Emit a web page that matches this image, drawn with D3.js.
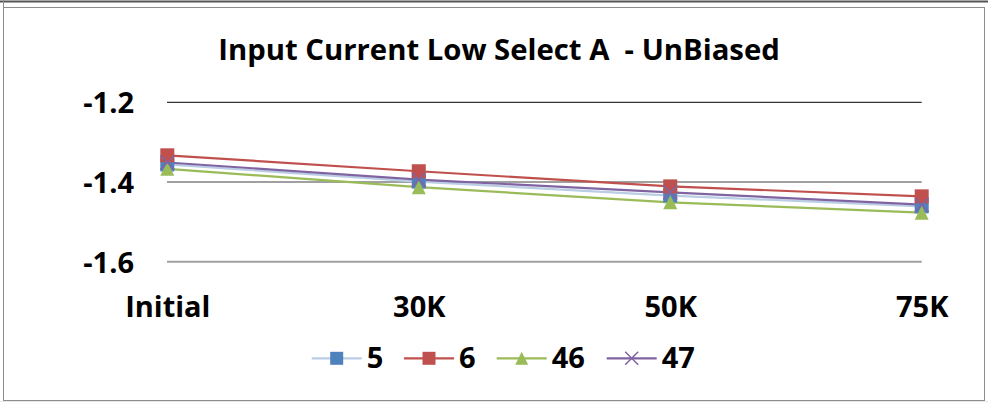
<!DOCTYPE html>
<html><head><meta charset="utf-8">
<script src="https://cdn.jsdelivr.net/npm/d3@7"></script>
<style>html,body{margin:0;padding:0;background:#fff;}svg{display:block;}</style>
</head><body>
<svg id="chart" width="988" height="403"></svg>
<script>
const title = "Input Current Low Select A  - UnBiased";
const categories = ["Initial", "30K", "50K", "75K"];
const yTicks = [-1.2, -1.4, -1.6];
const yTickLabels = ["-1.2", "-1.4", "-1.6"];
const seriesNames = ["5", "6", "46", "47"];
const s5 = [-1.356, -1.399, -1.434, -1.461];
const s6 = [-1.333, -1.373, -1.411, -1.436];
const s46 = [-1.367, -1.413, -1.451, -1.477];
const s47 = [-1.351, -1.394, -1.426, -1.457];
const lineColors = ["#b9cde5", "#c0504d", "#9bbb59", "#8064a2"];
const markerColors = ["#4f81bd", "#c0504d", "#9bbb59", "#8064a2"];
const markerTypes = ["square", "square", "triangle", "x"];
const values = [s5, s6, s46, s47];

const svg = d3.select("#chart");
const font = "'Open Sans', sans-serif";

// frame
svg.append("line").attr("x1",0).attr("x2",988).attr("y1",1.5).attr("y2",1.5).attr("stroke","#555").attr("stroke-width",2);
svg.append("rect").attr("x",3.5).attr("y",7.5).attr("width",981).attr("height",393).attr("fill","#fff").attr("stroke","#8c8c8c").attr("stroke-width",1);
svg.append("line").attr("x1",3.5).attr("x2",3.5).attr("y1",0).attr("y2",8).attr("stroke","#8c8c8c");
svg.append("line").attr("x1",0).attr("x2",988).attr("y1",401.5).attr("y2",401.5).attr("stroke","#e8e8e8");

const x = d3.scalePoint().domain(categories).range([167.3, 921.7]);
const y = d3.scaleLinear().domain([-1.6, -1.2]).range([261.7, 102.3]);

// title
svg.append("text").attr("x",499).attr("y",60).attr("text-anchor","middle")
  .style("white-space","pre").attr("xml:space","preserve")
  .attr("font-family",font).attr("font-weight","bold").attr("font-size",29.3).attr("fill","#000").text(title);

// y axis labels
const yAxis = d3.axisLeft(y).tickValues(yTicks).tickSize(0).tickFormat((d,i)=>yTickLabels[i]);
const yg = svg.append("g").attr("transform","translate(134,0)").call(yAxis);
yg.select(".domain").remove();
yg.selectAll("text").attr("x",0).attr("dy","0.36em").attr("font-family",font).attr("font-weight","bold").attr("font-size",29).attr("fill","#000");

// gridlines
svg.append("g").selectAll("line").data(yTicks).join("line")
  .attr("x1",167).attr("x2",921.7)
  .attr("y1",d=>y(d)).attr("y2",d=>y(d))
  .attr("stroke",d=>d===-1.2?"#000":"#a0a0a0")
  .attr("stroke-width",d=>d===-1.2?1:2);

// x axis labels
const xAxis = d3.axisBottom(x).tickSize(0);
const xg = svg.append("g").attr("transform","translate(0,295)").call(xAxis);
xg.select(".domain").remove();
xg.selectAll("text").attr("y",0).attr("dy","0.75em").attr("font-family",font).attr("font-weight","bold").attr("font-size",29).attr("fill","#000");

function drawMarker(g, type, color, cx, cy, s) {
  if (type === "square") {
    g.append("rect").attr("x",cx-s/2).attr("y",cy-s/2).attr("width",s).attr("height",s).attr("fill",color);
  } else if (type === "triangle") {
    const h = s;
    g.append("path").attr("d",`M${cx},${cy-h/2}L${cx+s/2},${cy+h/2}L${cx-s/2},${cy+h/2}Z`).attr("fill",color);
  } else {
    const r = s/2;
    g.append("path").attr("d",`M${cx-r},${cy-r}L${cx+r},${cy+r}M${cx-r},${cy+r}L${cx+r},${cy-r}`).attr("stroke",color).attr("stroke-width",1.5).attr("fill","none");
  }
}

// lines
const line = d3.line().x((d,i)=>x(categories[i])).y(d=>y(d));
values.forEach((vals,si)=>{
  svg.append("path").datum(vals).attr("d",line).attr("fill","none").attr("stroke",lineColors[si]).attr("stroke-width",2.2);
});
// markers
values.forEach((vals,si)=>{
  const g = svg.append("g");
  vals.forEach((v,i)=>drawMarker(g, markerTypes[si], markerColors[si], x(categories[i]), y(v), 14));
});

// legend
const legendX = [311.7, 404, 496.7, 606.7];
const ly = 358.3;
seriesNames.forEach((n,si)=>{
  const g = svg.append("g");
  const x0 = legendX[si];
  g.append("line").attr("x1",x0).attr("x2",x0+50).attr("y1",ly).attr("y2",ly).attr("stroke",lineColors[si]).attr("stroke-width",2.2);
  drawMarker(g, markerTypes[si], markerColors[si], x0+25, ly, 13);
  g.append("text").attr("x",x0+55).attr("y",368.3).attr("font-family",font).attr("font-weight","bold").attr("font-size",29).attr("fill","#000").text(n);
});
</script>
</body></html>
